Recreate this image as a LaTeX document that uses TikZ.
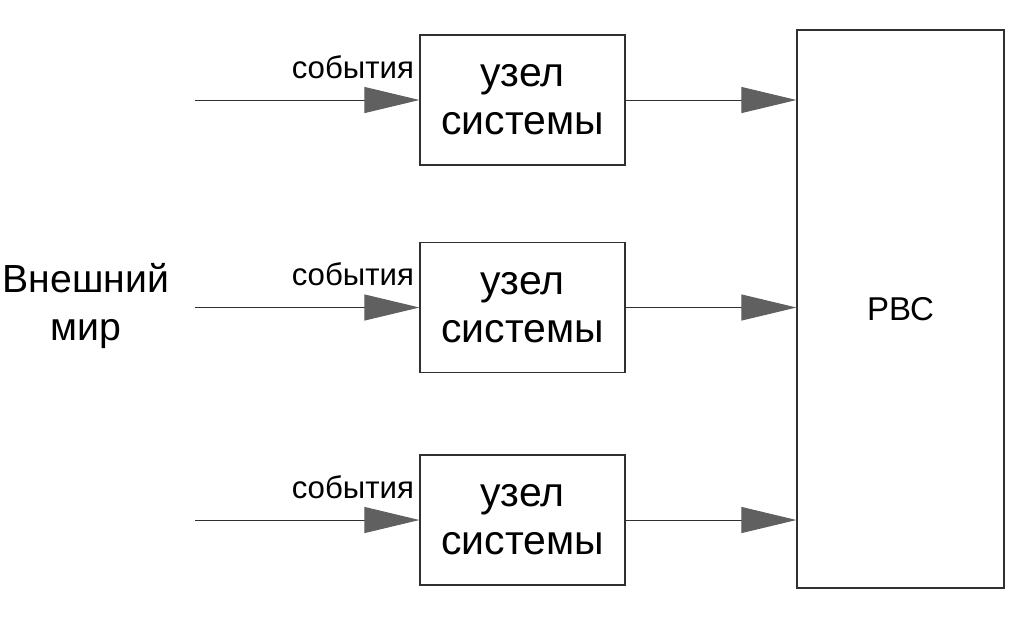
\documentclass[tikz,border=0pt]{standalone}
\usepackage{fontspec}
\setmainfont{Liberation Sans}
\usetikzlibrary{arrows.meta}
\definecolor{linegray}{HTML}{303030}
\definecolor{tipgray}{HTML}{606060}
\tikzset{
  unit/.style={draw=linegray,line width=0.6pt,minimum width=102.5pt,minimum height=65pt,
    inner sep=0pt,align=center,font=\fontsize{20.5}{24}\selectfont},
  flow/.style={draw=linegray,line width=0.5pt,-{Triangle[length=27.5pt,width=13pt,color=tipgray]}},
  evt/.style={inner sep=0pt,anchor=base east,font=\fontsize{15.6}{18}\selectfont},
}
\begin{document}
\begin{tikzpicture}[x=0.5pt,y=-0.5pt]
    \useasboundingbox (0,0) rectangle (1022,618);

    \node[unit] (u1) at (522.5,100) {узел\\системы};
    \node[unit] (u2) [below of=u1,node distance=103.75pt] {узел\\системы};
    \node[unit] (u3) [below of=u2,node distance=106.25pt] {узел\\системы};

    \node[unit,minimum width=103.5pt,minimum height=279pt,font=\fontsize{16.5}{18}\selectfont] (rbc) at (900.5,309) {РВС};
    \node[align=center,inner sep=0pt,font=\fontsize{19.6}{24}\selectfont] (world) at (86,306) {Внешний\\мир};

    \node[coordinate] (in1) [left of=u1,node distance=163.75pt] {};
    \node[coordinate] (in2) [left of=u2,node distance=163.75pt] {};
    \node[coordinate] (in3) [left of=u3,node distance=163.75pt] {};

    \node[evt] (ev1) at ([xshift=-2.5pt,yshift=11pt]u1.west) {события};
    \node[evt] (ev2) at ([xshift=-2.5pt,yshift=11pt]u2.west) {события};
    \node[evt] (ev3) at ([xshift=-2.5pt,yshift=11pt]u3.west) {события};

    \draw[flow] (in1) -- (u1);
    \draw[flow] (in2) -- (u2);
    \draw[flow] (in3) -- (u3);

    \draw[flow] (u1) -- (u1 -| rbc.west);
    \draw[flow] (u2) -- (u2 -| rbc.west);
    \draw[flow] (u3) -- (u3 -| rbc.west);
\end{tikzpicture}
\end{document}
